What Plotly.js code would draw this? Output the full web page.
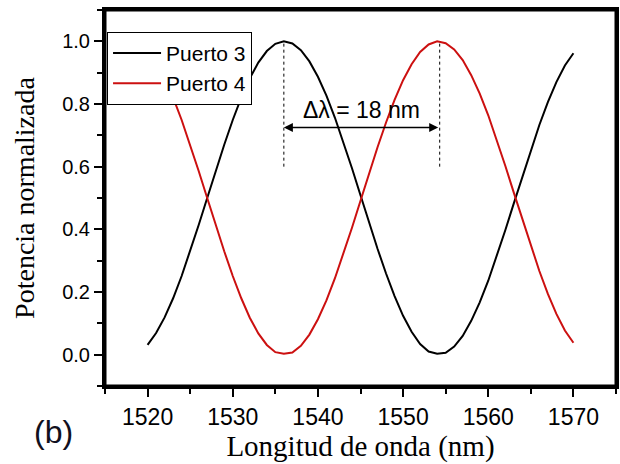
<!DOCTYPE html>
<html>
<head>
<meta charset="utf-8">
<script src="https://cdn.plot.ly/plotly-3.0.1.min.js"></script>
<style>html,body{margin:0;padding:0;background:#fff;}#chart{width:620px;height:464px;}</style>
</head>
<body>
<div id="chart"></div>
<script>
// Wavelength (nm)
const wavelength = [1520,1521,1522,1523,1524,1525,1526,1527,1528,1529,1530,1531,1532,1533,1534,1535,1536,1537,1538,1539,1540,1541,1542,1543,1544,1545,1546,1547,1548,1549,1550,1551,1552,1553,1554,1555,1556,1557,1558,1559,1560,1561,1562,1563,1564,1565,1566,1567,1568,1569,1570];
// Puerto 3 (black)
const puerto3 = [0.031,0.069,0.119,0.180,0.251,0.330,0.414,0.500,0.586,0.670,0.749,0.820,0.882,0.932,0.969,0.992,1.000,0.993,0.972,0.936,0.887,0.827,0.756,0.678,0.595,0.509,0.422,0.338,0.259,0.187,0.124,0.073,0.034,0.010,0.003,0.006,0.026,0.060,0.108,0.167,0.236,0.314,0.397,0.483,0.569,0.654,0.733,0.806,0.870,0.923,0.962];
// Puerto 4 (red)
const puerto4 = [0.969,0.931,0.881,0.820,0.749,0.670,0.586,0.500,0.414,0.330,0.251,0.180,0.118,0.068,0.031,0.008,0.003,0.007,0.028,0.064,0.113,0.173,0.244,0.322,0.405,0.491,0.578,0.662,0.741,0.813,0.876,0.927,0.966,0.990,1.000,0.994,0.974,0.940,0.892,0.833,0.764,0.686,0.603,0.517,0.431,0.346,0.267,0.194,0.130,0.077,0.038];
const seriesNames = ["Puerto 3", "Puerto 4"];
const xTicks = [1520,1530,1540,1550,1560,1570];
const yTicks = [0.0,0.2,0.4,0.6,0.8,1.0];
const yTickText = ["0.0","0.2","0.4","0.6","0.8","1.0"];
// Peak positions marked with dotted lines
const peakX = [1536.0, 1554.3];
const peakLineY = [0.6, 1.0];
const arrowY = 0.725;
const labelText = "\u0394\u03bb = 18 nm";

const sans = "Liberation Sans, Arial, sans-serif";
const serif = "Liberation Serif, Times New Roman, serif";

const traces = [
  {x: wavelength, y: puerto3, type: 'scatter', mode: 'lines', name: seriesNames[0],
   line: {color: '#000000', width: 2}},
  {x: wavelength, y: puerto4, type: 'scatter', mode: 'lines', name: seriesNames[1],
   line: {color: '#cc1010', width: 2}}
];

const shapes = peakX.map(px => ({
  type: 'line', xref: 'x', yref: 'y', x0: px, x1: px, y0: peakLineY[0], y1: peakLineY[1],
  line: {color: '#000', width: 1, dash: 'dot'}
}));
// plot frame
shapes.push({type: 'rect', xref: 'paper', yref: 'paper', x0: 0, x1: 1, y0: 0, y1: 1,
  line: {color: '#000', width: 3}, fillcolor: 'rgba(0,0,0,0)', layer: 'above'});

const midX = (peakX[0] + peakX[1]) / 2;
const annotations = [
  {x: peakX[0], y: arrowY, ax: peakX[1], ay: arrowY, xref: 'x', yref: 'y', axref: 'x', ayref: 'y',
   text: '', showarrow: true, arrowhead: 2, startarrowhead: 2, arrowside: 'end+start',
   arrowsize: 1.2, arrowwidth: 1.5, arrowcolor: '#000', standoff: 0, startstandoff: 0},
  {x: midX, y: arrowY, xref: 'x', yref: 'y', text: labelText, showarrow: false,
   yanchor: 'bottom', yshift: 3, font: {family: sans, size: 23, color: '#000'}},
  {x: -0.058, y: -0.07, xref: 'paper', yref: 'paper', xanchor: 'right', yanchor: 'top',
   text: '(b)', showarrow: false, font: {family: sans, size: 32, color: '#101020'}}
];

const layout = {
  width: 620, height: 464,
  margin: {l: 105, r: 4, t: 10, b: 78},
  paper_bgcolor: '#fff', plot_bgcolor: '#fff',
  showlegend: true,
  legend: {x: 0.004, y: 0.942, xanchor: 'left', yanchor: 'top', bgcolor: '#fff',
    bordercolor: '#000', borderwidth: 1, font: {family: sans, size: 21, color: '#000'},
    itemwidth: 48, tracegroupgap: 0},
  xaxis: {
    range: [1515, 1575], tickvals: xTicks, ticktext: xTicks.map(String),
    ticks: 'outside', ticklen: 8, tickwidth: 2, tickcolor: '#000',
    showline: true, linewidth: 3, linecolor: '#000000', mirror: true,
    showgrid: false, zeroline: false,
    tickfont: {family: sans, size: 23, color: '#000'},
    minor: {dtick: 5, tick0: 1515, ticks: 'outside', ticklen: 5, tickwidth: 2, tickcolor: '#000', showgrid: false},
    title: {text: 'Longitud de onda (nm)', font: {family: serif, size: 29, color: '#000'}, standoff: 6}
  },
  yaxis: {
    range: [-0.1, 1.1], tickvals: yTicks, ticktext: yTickText,
    ticks: 'outside', ticklen: 8, tickwidth: 2, tickcolor: '#000',
    showline: true, linewidth: 3, linecolor: '#000000', mirror: true,
    showgrid: false, zeroline: false,
    tickfont: {family: sans, size: 20, color: '#000'},
    minor: {dtick: 0.1, tick0: 0, ticks: 'outside', ticklen: 5, tickwidth: 2, tickcolor: '#000', showgrid: false},
    title: {text: 'Potencia normalizada', font: {family: serif, size: 28, color: '#000'}, standoff: 20}
  },
  shapes: shapes,
  annotations: annotations
};

Plotly.newPlot('chart', traces, layout, {displayModeBar: false, staticPlot: true});
</script>
</body>
</html>
